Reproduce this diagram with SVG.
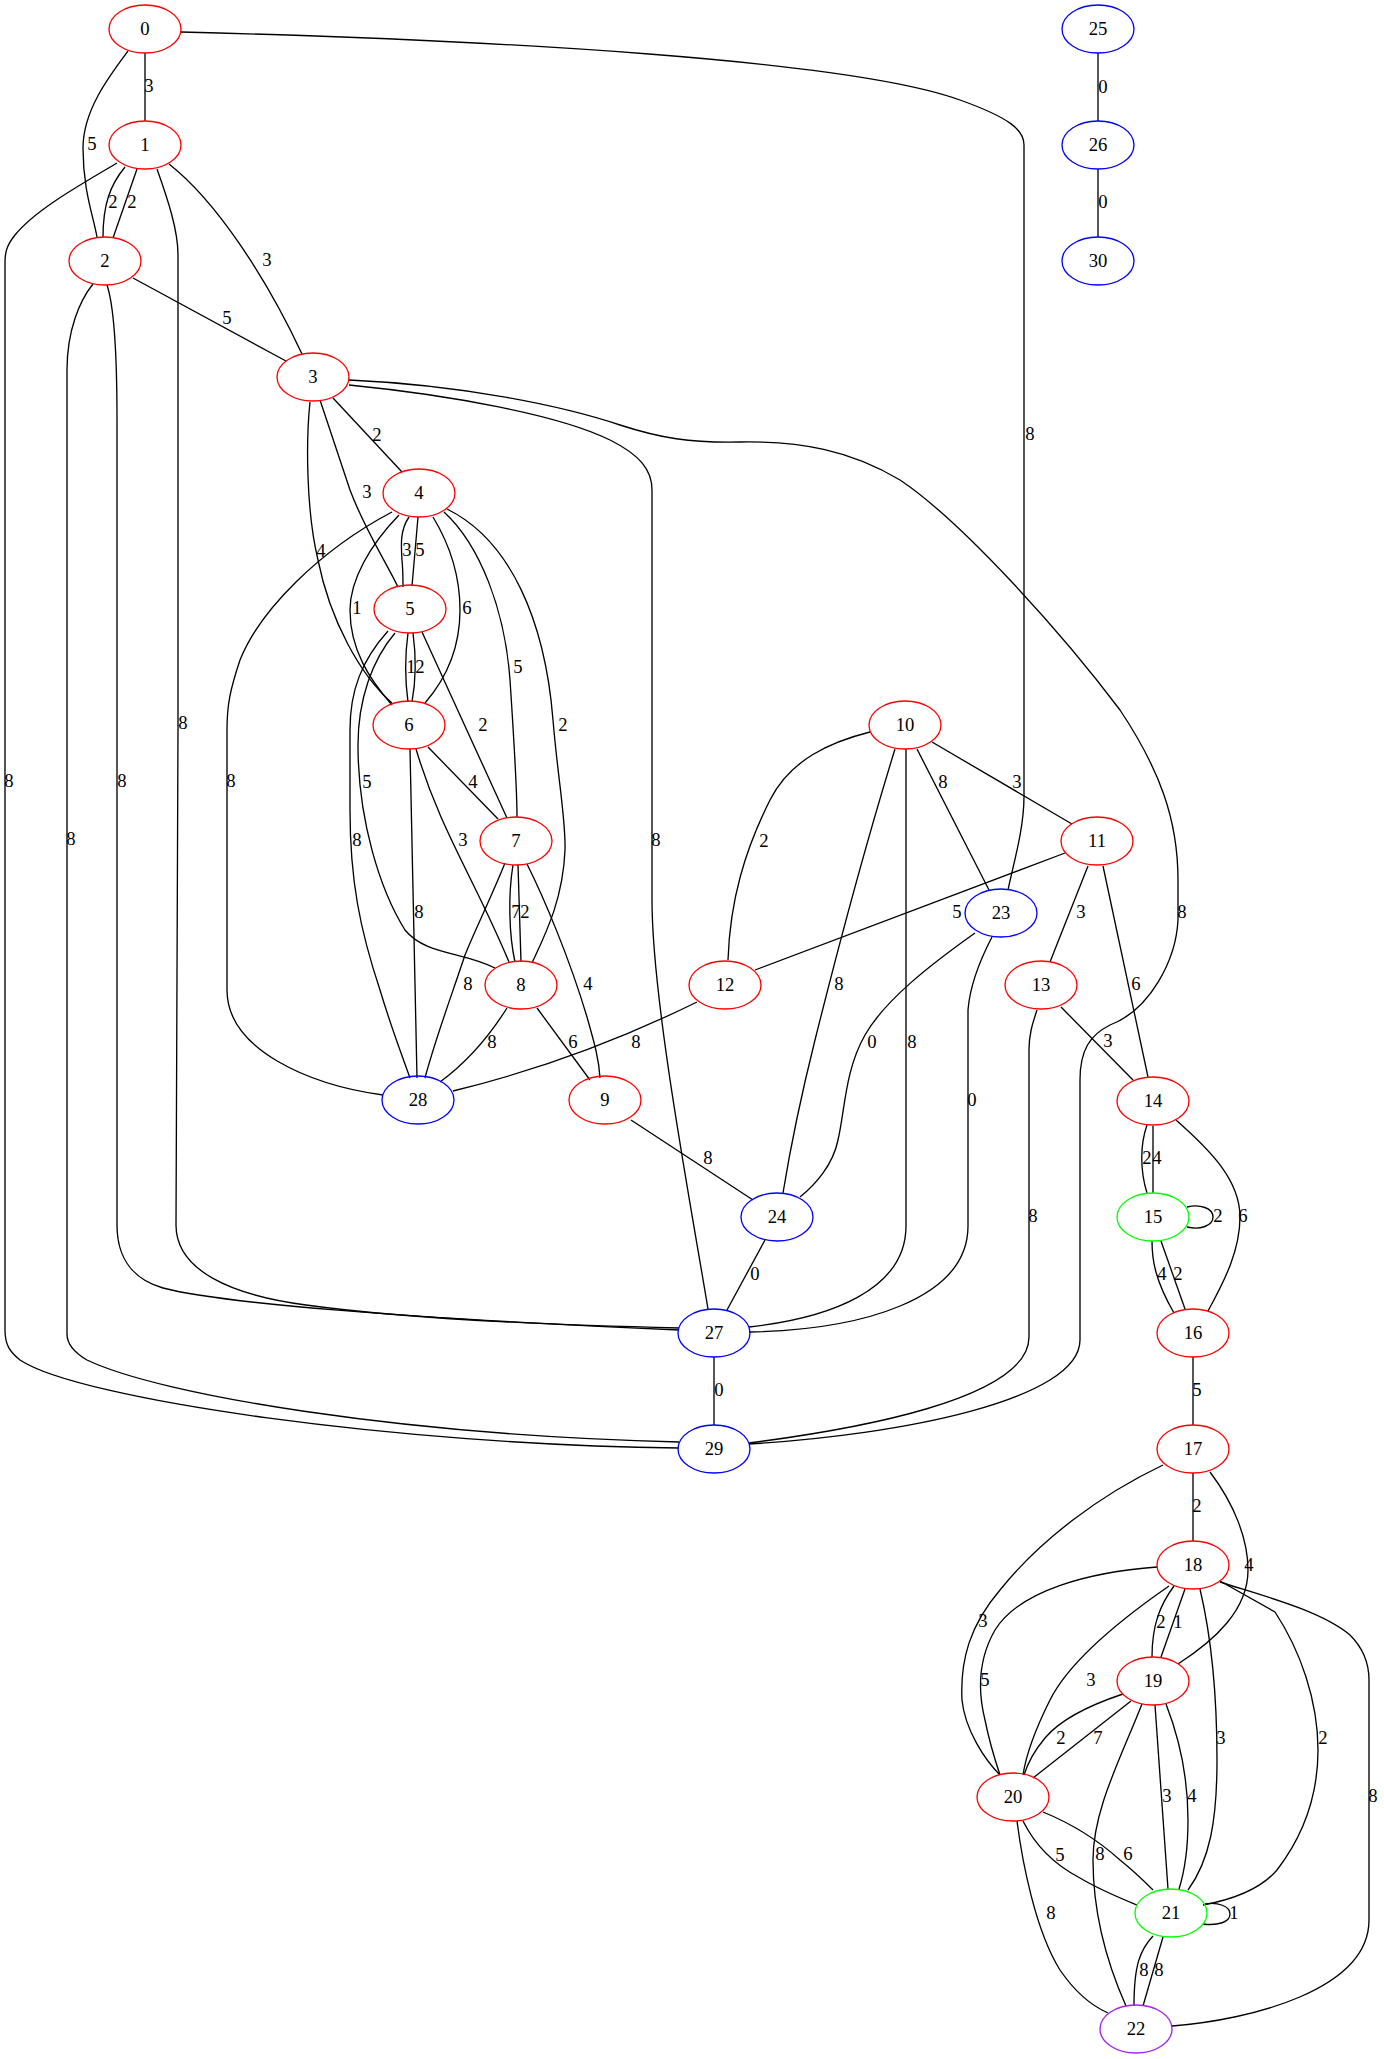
<svg xmlns="http://www.w3.org/2000/svg" width="1384" height="2059" viewBox="0 0 1384 2059">
<style>
.e path{fill:none;stroke:#000;stroke-width:1.33}
.n ellipse{fill:none;stroke-width:1.33}
.r ellipse{stroke:#ff0000}
.b ellipse{stroke:#0000ff}
.g ellipse{stroke:#00ff00}
.p ellipse{stroke:#a020f0}
text{font-family:"Liberation Serif","Times New Roman",serif;font-size:18.67px;text-anchor:middle;fill:#000}
</style>
<rect width="1384" height="2059" fill="#fff"/>
<g id="edges" class="e">
<path d="M145,53 L145,121"/>
<path d="M128,51 C110,75 83,110 83,148 C83,190 93,215 97,237"/>
<path d="M181,32 C500,40 850,60 960,100 C1010,118 1024,130 1024,145 L1024,796 C1024,830 1013,865 1008,890"/>
<path d="M125,167 C110,185 103,205 103,237"/>
<path d="M137,169 L113,238"/>
<path d="M169,164 C215,200 265,275 302,354"/>
<path d="M117,163 C80,185 35,210 15,235 C7,245 5,252 5,262 L5,1330 C5,1345 10,1352 20,1360 C80,1400 400,1445 679,1448"/>
<path d="M157,169 C168,200 178,230 178,255 L178,727 L176,1225 C176,1270 230,1295 306,1305 C400,1318 550,1325 679,1328"/>
<path d="M133,278 L286,361"/>
<path d="M93,284 C80,300 67,330 67,370 L67,1334 C67,1345 75,1353 87,1360 C160,1395 400,1435 679,1442"/>
<path d="M107,285 C112,300 117,330 117,420 L117,1225 C117,1260 135,1280 163,1288 C220,1303 400,1318 679,1330"/>
<path d="M333,398 L402,472"/>
<path d="M320,400 C330,430 340,460 350,490 C365,530 385,560 398,587"/>
<path d="M310,402 C306,440 306,510 318,560 C330,620 360,675 392,703"/>
<path d="M349,385 C450,395 560,415 610,440 C640,455 652,470 652,490 L652,900 C652,1000 690,1200 708,1309"/>
<path d="M349,380 C460,385 560,405 620,425 C660,438 690,443 740,442 C800,441 850,450 900,480 C960,520 1060,630 1120,710 C1160,770 1178,820 1178,880 L1178,920 C1176,960 1150,1010 1110,1025 C1090,1035 1080,1050 1080,1080 L1080,1340 C1080,1400 900,1435 749,1444"/>
<path d="M409,517 C400,530 401,545 402,560 C403,570 403,580 403,587"/>
<path d="M418,517 L412,586"/>
<path d="M399,515 C370,545 350,580 350,610 C350,650 370,680 392,705"/>
<path d="M433,517 C450,545 460,575 460,610 C460,650 445,680 425,703"/>
<path d="M444,512 C480,545 505,610 510,680 C514,740 517,790 517,817"/>
<path d="M447,509 C510,540 545,620 553,720 C558,780 566,820 565,850 C563,900 545,935 532,963"/>
<path d="M392,512 C320,550 260,610 240,660 C230,690 227,705 227,730 L227,990 C227,1050 310,1085 383,1095"/>
<path d="M408,633 C405,655 405,680 408,702"/>
<path d="M413,633 C416,655 416,680 412,702"/>
<path d="M422,632 L507,818"/>
<path d="M395,633 C372,660 358,700 358,745 C358,820 380,890 405,930 C425,955 465,952 495,968"/>
<path d="M388,631 C362,660 350,690 350,730 L350,810 C350,880 360,930 380,990 C392,1030 402,1055 410,1078"/>
<path d="M428,747 L498,819"/>
<path d="M416,749 C440,830 475,880 509,962"/>
<path d="M410,749 L417,1078"/>
<path d="M513,865 C508,895 509,935 515,962"/>
<path d="M518,865 L521,962"/>
<path d="M527,864 C545,900 570,960 587,1017 C595,1045 599,1060 600,1078"/>
<path d="M505,863 C490,900 475,930 465,955 C450,1000 435,1040 425,1078"/>
<path d="M537,1008 L590,1080"/>
<path d="M507,1008 C490,1035 470,1060 440,1082"/>
<path d="M697,1002 C640,1030 560,1065 453,1091"/>
<path d="M631,1120 L753,1200"/>
<path d="M932,742 L1072,824"/>
<path d="M870,732 C830,742 790,760 770,800 C745,850 730,900 728,960"/>
<path d="M917,749 L989,890"/>
<path d="M895,749 C870,830 840,940 815,1040 C800,1100 790,1150 783,1193"/>
<path d="M906,749 L906,1226 C906,1290 830,1318 749,1327"/>
<path d="M1065,853 L755,970"/>
<path d="M1088,866 L1050,962"/>
<path d="M1103,866 L1148,1077"/>
<path d="M1061,1007 L1133,1080"/>
<path d="M1037,1010 C1032,1025 1029,1035 1029,1050 L1029,1337 C1029,1400 850,1430 749,1443"/>
<path d="M975,933 C930,965 885,1000 865,1035 C845,1070 845,1110 838,1140 C833,1165 815,1185 800,1197"/>
<path d="M992,937 C980,960 970,985 968,1010 L968,1226 C968,1300 860,1330 749,1332"/>
<path d="M765,1240 L727,1310"/>
<path d="M1147,1125 C1140,1145 1140,1170 1147,1193"/>
<path d="M1153,1126 L1153,1193"/>
<path d="M1176,1120 C1210,1150 1240,1180 1240,1217 C1240,1250 1225,1280 1208,1311"/>
<path d="M1187,1207 C1200,1204 1213,1208 1213,1217 C1213,1226 1200,1230 1187,1227"/>
<path d="M1152,1241 C1152,1260 1155,1280 1174,1313"/>
<path d="M1161,1241 L1185,1309"/>
<path d="M1193,1357 L1193,1425"/>
<path d="M1193,1473 L1193,1541"/>
<path d="M1210,1472 C1235,1505 1248,1540 1248,1570 C1248,1610 1215,1640 1178,1664"/>
<path d="M1163,1465 C1100,1495 1040,1540 1000,1590 C970,1625 960,1660 962,1700 C965,1730 985,1760 1000,1775"/>
<path d="M1174,1586 C1160,1605 1152,1625 1152,1657"/>
<path d="M1185,1589 L1161,1657"/>
<path d="M1157,1567 C1090,1572 1020,1590 995,1630 C975,1665 980,1700 985,1720 C990,1745 995,1760 1000,1775"/>
<path d="M1169,1586 C1120,1620 1070,1660 1050,1700 C1035,1730 1026,1755 1023,1775"/>
<path d="M1200,1589 C1212,1640 1217,1700 1217,1760 C1217,1820 1210,1860 1188,1890"/>
<path d="M1220,1581 L1275,1612 C1300,1650 1318,1700 1318,1750 C1318,1800 1300,1840 1277,1870 C1260,1890 1230,1900 1203,1905"/>
<path d="M1220,1582 C1260,1595 1320,1610 1350,1635 C1365,1650 1369,1665 1369,1680 L1369,1920 C1369,1990 1250,2020 1172,2026"/>
<path d="M1123,1694 C1090,1705 1060,1720 1045,1738 C1035,1750 1028,1762 1024,1775"/>
<path d="M1131,1701 L1033,1778"/>
<path d="M1155,1705 L1168,1889"/>
<path d="M1166,1704 C1180,1740 1188,1780 1188,1820 C1188,1850 1185,1870 1179,1889"/>
<path d="M1142,1704 C1120,1760 1093,1810 1093,1860 C1093,1920 1110,1970 1126,2006"/>
<path d="M1023,1821 C1035,1845 1055,1865 1080,1878 C1100,1890 1120,1898 1137,1905"/>
<path d="M1043,1812 C1075,1825 1100,1842 1120,1860 C1135,1872 1145,1882 1153,1890"/>
<path d="M1205,1904 C1218,1902 1230,1906 1230,1914 C1230,1922 1218,1926 1203,1924"/>
<path d="M1017,1821 C1022,1860 1035,1930 1060,1970 C1075,1992 1090,2005 1108,2013"/>
<path d="M1153,1936 C1140,1950 1134,1965 1134,2006"/>
<path d="M1163,1937 L1143,2006"/>
<path d="M714,1357 L714,1425"/>
<path d="M1098,53 L1098,121"/>
<path d="M1098,169 L1098,237"/>
</g>
<g id="edge-labels">
<text x="149" y="92">3</text>
<text x="92" y="150">5</text>
<text x="1030" y="440">8</text>
<text x="113" y="208">2</text>
<text x="132" y="208">2</text>
<text x="267" y="266">3</text>
<text x="9" y="787">8</text>
<text x="183" y="729">8</text>
<text x="227" y="324">5</text>
<text x="71" y="845">8</text>
<text x="122" y="787">8</text>
<text x="377" y="441">2</text>
<text x="367" y="498">3</text>
<text x="321" y="557">4</text>
<text x="656" y="846">8</text>
<text x="1182" y="918">8</text>
<text x="407" y="556">3</text>
<text x="420" y="556">5</text>
<text x="357" y="614">1</text>
<text x="467" y="614">6</text>
<text x="518" y="673">5</text>
<text x="563" y="731">2</text>
<text x="231" y="787">8</text>
<text x="411" y="673">1</text>
<text x="420" y="673">2</text>
<text x="483" y="731">2</text>
<text x="367" y="788">5</text>
<text x="357" y="846">8</text>
<text x="473" y="788">4</text>
<text x="463" y="846">3</text>
<text x="419" y="918">8</text>
<text x="516" y="918">7</text>
<text x="525" y="918">2</text>
<text x="588" y="990">4</text>
<text x="468" y="990">8</text>
<text x="573" y="1048">6</text>
<text x="492" y="1048">8</text>
<text x="708" y="1164">8</text>
<text x="1017" y="788">3</text>
<text x="764" y="847">2</text>
<text x="943" y="788">8</text>
<text x="839" y="990">8</text>
<text x="912" y="1048">8</text>
<text x="957" y="918">5</text>
<text x="1081" y="918">3</text>
<text x="1136" y="990">6</text>
<text x="636" y="1048">8</text>
<text x="1108" y="1047">3</text>
<text x="1033" y="1222">8</text>
<text x="1147" y="1164">2</text>
<text x="1157" y="1164">4</text>
<text x="1243" y="1222">6</text>
<text x="1218" y="1222">2</text>
<text x="1162" y="1280">4</text>
<text x="1178" y="1280">2</text>
<text x="1197" y="1396">5</text>
<text x="1197" y="1512">2</text>
<text x="1249" y="1571">4</text>
<text x="983" y="1627">3</text>
<text x="1161" y="1628">2</text>
<text x="1178" y="1628">1</text>
<text x="985" y="1686">5</text>
<text x="1091" y="1686">3</text>
<text x="1221" y="1744">3</text>
<text x="1323" y="1744">2</text>
<text x="1373" y="1802">8</text>
<text x="1061" y="1744">2</text>
<text x="1098" y="1744">7</text>
<text x="1167" y="1802">3</text>
<text x="1192" y="1802">4</text>
<text x="1100" y="1860">8</text>
<text x="1060" y="1861">5</text>
<text x="1128" y="1860">6</text>
<text x="1051" y="1919">8</text>
<text x="1234" y="1919">1</text>
<text x="1144" y="1976">8</text>
<text x="1159" y="1976">8</text>
<text x="872" y="1048">0</text>
<text x="972" y="1106">0</text>
<text x="755" y="1280">0</text>
<text x="1103" y="93">0</text>
<text x="1103" y="208">0</text>
<text x="719" y="1396">0</text>
</g>
<g id="node0" class="n r"><ellipse cx="145" cy="29" rx="36" ry="24"/><text x="145" y="35">0</text></g>
<g id="node1" class="n r"><ellipse cx="145" cy="145" rx="36" ry="24"/><text x="145" y="151">1</text></g>
<g id="node2" class="n r"><ellipse cx="105" cy="261" rx="36" ry="24"/><text x="105" y="267">2</text></g>
<g id="node3" class="n r"><ellipse cx="313" cy="377" rx="36" ry="24"/><text x="313" y="383">3</text></g>
<g id="node4" class="n r"><ellipse cx="419" cy="493" rx="36" ry="24"/><text x="419" y="499">4</text></g>
<g id="node5" class="n r"><ellipse cx="410" cy="609" rx="36" ry="24"/><text x="410" y="615">5</text></g>
<g id="node6" class="n r"><ellipse cx="409" cy="725" rx="36" ry="24"/><text x="409" y="731">6</text></g>
<g id="node7" class="n r"><ellipse cx="516" cy="841" rx="36" ry="24"/><text x="516" y="847">7</text></g>
<g id="node8" class="n r"><ellipse cx="521" cy="985" rx="36" ry="24"/><text x="521" y="991">8</text></g>
<g id="node9" class="n r"><ellipse cx="605" cy="1100" rx="36" ry="24"/><text x="605" y="1106">9</text></g>
<g id="node10" class="n r"><ellipse cx="905" cy="725" rx="36" ry="24"/><text x="905" y="731">10</text></g>
<g id="node11" class="n r"><ellipse cx="1097" cy="841" rx="36" ry="24"/><text x="1097" y="847">11</text></g>
<g id="node12" class="n r"><ellipse cx="725" cy="985" rx="36" ry="24"/><text x="725" y="991">12</text></g>
<g id="node13" class="n r"><ellipse cx="1041" cy="985" rx="36" ry="24"/><text x="1041" y="991">13</text></g>
<g id="node14" class="n r"><ellipse cx="1153" cy="1101" rx="36" ry="24"/><text x="1153" y="1107">14</text></g>
<g id="node15" class="n g"><ellipse cx="1153" cy="1217" rx="36" ry="24"/><text x="1153" y="1223">15</text></g>
<g id="node16" class="n r"><ellipse cx="1193" cy="1333" rx="36" ry="24"/><text x="1193" y="1339">16</text></g>
<g id="node17" class="n r"><ellipse cx="1193" cy="1449" rx="36" ry="24"/><text x="1193" y="1455">17</text></g>
<g id="node18" class="n r"><ellipse cx="1193" cy="1565" rx="36" ry="24"/><text x="1193" y="1571">18</text></g>
<g id="node19" class="n r"><ellipse cx="1153" cy="1681" rx="36" ry="24"/><text x="1153" y="1687">19</text></g>
<g id="node20" class="n r"><ellipse cx="1013" cy="1797" rx="36" ry="24"/><text x="1013" y="1803">20</text></g>
<g id="node21" class="n g"><ellipse cx="1171" cy="1913" rx="36" ry="24"/><text x="1171" y="1919">21</text></g>
<g id="node22" class="n p"><ellipse cx="1136" cy="2029" rx="36" ry="24"/><text x="1136" y="2035">22</text></g>
<g id="node23" class="n b"><ellipse cx="1001" cy="913" rx="36" ry="24"/><text x="1001" y="919">23</text></g>
<g id="node24" class="n b"><ellipse cx="777" cy="1217" rx="36" ry="24"/><text x="777" y="1223">24</text></g>
<g id="node25" class="n b"><ellipse cx="1098" cy="29" rx="36" ry="24"/><text x="1098" y="35">25</text></g>
<g id="node26" class="n b"><ellipse cx="1098" cy="145" rx="36" ry="24"/><text x="1098" y="151">26</text></g>
<g id="node27" class="n b"><ellipse cx="714" cy="1333" rx="36" ry="24"/><text x="714" y="1339">27</text></g>
<g id="node28" class="n b"><ellipse cx="418" cy="1100" rx="36" ry="24"/><text x="418" y="1106">28</text></g>
<g id="node29" class="n b"><ellipse cx="714" cy="1449" rx="36" ry="24"/><text x="714" y="1455">29</text></g>
<g id="node30" class="n b"><ellipse cx="1098" cy="261" rx="36" ry="24"/><text x="1098" y="267">30</text></g>
</svg>
